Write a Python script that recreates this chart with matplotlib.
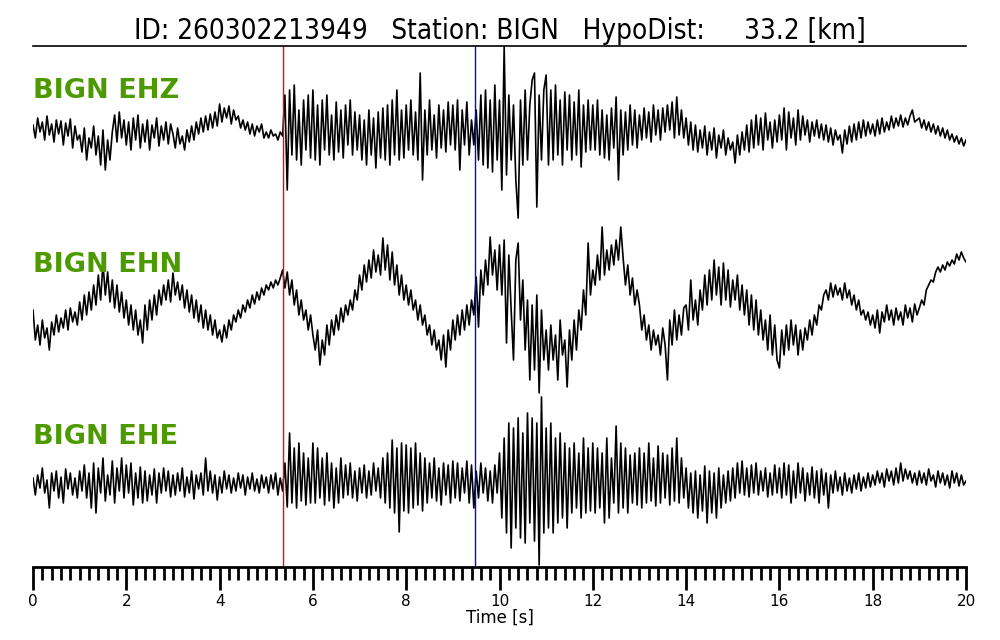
import numpy as np
import matplotlib
matplotlib.use("Agg")
import matplotlib.pyplot as plt

# event info
event_id = "260302213949"
station = "BIGN"
hypo_dist = 33.2
channels = ["EHZ", "EHN", "EHE"]
p_pick = 5.36
s_pick = 9.47
dt = 0.05

# traces, one row per second (20 samples), last value at t=20
ehz = [
    5, -8, 12, -2, 8, -10, 14, -5, 6, -12, 10, -4, 9, -15, 7, -6, 11, -18, 4, -10,
    -5, -22, 2, -30, -8, -18, 4, -25, -6, -35, 0, -40, -10, -30, -2, 15, -12, 18, -8, 10,
    -15, 8, -20, 12, -10, 15, -18, 6, -12, 10, -20, 5, -8, 12, -16, 4, -10, 8, -14, 6,
    -4, -18, 2, -14, -6, -20, 0, -12, 4, -10, 8, -4, 12, -2, 14, 0, 16, 2, 18, 4,
    26, 8, 22, 12, 24, 6, 20, 10, 14, 2, 10, 0, 8, -4, 6, -6, 4, -2, 6, -8,
    -2, -8, 0, -6, -4, -10, -2, -6, 35, -60, 40, -25, 45, -30, 20, -35, 30, -20, 35, -28,
    40, -30, 25, -35, 30, -20, 35, -25, 15, -30, 28, -22, 20, -28, 25, -15, 30, -25, 18, -20,
    15, -30, 10, -35, 20, -25, 12, -38, 18, -28, 22, -30, 25, -35, 30, -25, 40, -30, 20, -28,
    25, -20, 30, -25, 18, -30, 57, -50, 20, -25, 30, -20, 15, -28, 25, -18, 20, -22, 28, -15,
    25, -20, 30, -40, 20, -15, 28, -25, 10, -15, 20, -30, 35, -35, 40, -38, 30, -42, 45, -30,
    30, -60, 83, -45, 35, -30, 25, -50, -88, 30, -35, 40, -30, 25, 50, 57, -77, 35, -30, 40,
    55, -35, 40, -30, 45, -25, 30, -35, 38, -20, 35, -30, 28, -25, 40, -37, 25, -22, 30, -20,
    25, -20, 30, -25, 20, -28, 15, -30, 22, -18, 33, -50, 20, -25, 18, -20, 25, -15, 20, -18,
    15, -10, 22, -8, 18, -12, 25, -5, 20, -10, 22, -2, 25, 0, 28, -8, 33, -5, 20, -8,
    12, -15, 8, -20, 5, -22, 0, -18, 4, -25, -2, -20, 2, -28, -5, -18, 0, -25, -8, -20,
    -12, -33, -5, -25, -2, -20, 5, -22, 10, -18, 15, -15, 12, -20, 17, -10, 8, -18, 10, -12,
    15, -10, 22, -20, 18, -8, 12, -15, 20, -10, 14, -5, 10, -12, 8, -6, 10, -8, 6, -10,
    5, -12, 2, -15, 0, -10, -5, -23, 0, -14, 4, -12, 6, -10, 8, -8, 10, -6, 8, -4,
    6, -6, 10, -4, 12, -2, 8, 0, 14, 2, 12, 4, 15, 3, 12, 5, 14, 20, 8, 10,
    12, 2, 10, 0, 8, -2, 6, -4, 4, -6, 2, -8, 0, -10, -4, -12, -6, -14, -8, -16,
    -10,
]
ehn = [
    -10, -40, -25, -45, -20, -38, -28, -50, -22, -35, -15, -32, -18, -28, -10, -30, -8, -22, -12, -25,
    -2, -20, 5, -15, 8, -10, 15, -5, 25, 0, 37, 5, 28, -2, 20, -8, 15, -12, 8, -18,
    0, -25, -5, -30, -10, -35, -20, -43, -5, -30, 0, -20, 5, -15, 10, -5, 15, 0, 20, -2,
    27, 5, 18, 0, 15, -8, 10, -12, 5, -18, 0, -22, -5, -28, -10, -30, -15, -35, -20, -38,
    -30, -42, -25, -38, -20, -30, -15, -22, -10, -18, -5, -12, 0, -8, 5, -4, 8, 0, 12, 5,
    15, 10, 18, 12, 20, 15, 22, 30, 12, 28, 5, 20, -5, 10, -15, 0, -20, -10, -30, -15,
    -35, -50, -30, -65, -40, -55, -25, -45, -20, -35, -15, -30, -8, -22, -5, -15, 0, -10, 10, 0,
    25, 10, 35, 18, 40, 22, 50, 28, 45, 25, 62, 30, 55, 20, 48, 15, 35, 5, 25, 0,
    15, -5, 10, -10, 0, -20, -5, -25, -15, -35, -25, -45, -30, -50, -40, -60, -35, -67, -30, -50,
    -20, -40, -15, -35, -10, -30, -5, -25, 0, -15, 23, -27, 30, 5, 40, 15, 63, 25, 50, 10,
    55, 5, 60, -43, 45, -10, -60, 40, 57, -20, 20, -50, 0, -80, -5, -70, 5, -93, -10, -60,
    -30, -70, -25, -60, -35, -80, -20, -55, -40, -87, -30, -60, -20, -50, -10, -30, 10, -15, 57, 5,
    30, 15, 45, 20, 73, 25, 50, 30, 55, 35, 60, 40, 73, 42, 15, 35, 5, 22, -5, 10,
    -5, -30, -15, -40, -25, -50, -30, -45, -35, -55, -28, -45, -80, -20, -45, -10, -40, -15, -35, -8,
    -5, -30, 20, -20, 0, -25, 10, -10, 25, -5, 30, 0, 40, 5, 33, -5, 37, 0, 30, -7,
    20, 0, 25, -10, 15, -15, 10, -25, 5, -30, 0, -35, -10, -40, -20, -50, -15, -55, -25, -60,
    -68, -30, -55, -25, -50, -20, -45, -25, -55, -30, -50, -28, -40, -20, -35, -15, -25, -5, -10, 5,
    10, 0, 17, 3, 15, 5, 12, 0, 17, 2, 10, -5, 5, -10, 0, -15, -10, -20, -12, -25,
    -15, -28, -10, -33, -12, -22, -5, -20, -10, -25, -8, -20, -12, -25, -5, -18, -8, -22, -4, -15,
    -8, 0, -5, 10, 15, 20, 18, 28, 33, 28, 35, 30, 38, 34, 40, 36, 46, 40, 48, 42,
    38,
]
ehe = [
    5, -12, 8, -5, 15, -10, 3, -25, 10, -8, 12, -15, 6, -20, 14, -6, 10, -12, 5, -15,
    12, -8, 18, -15, 10, -25, 20, -30, 15, -10, 25, -18, 8, -12, 22, -20, 15, -8, 25, -15,
    18, -10, 20, -22, 10, -15, 16, -20, 12, -18, 8, -12, 14, -20, 10, -10, 15, -8, 12, -14,
    8, -12, 10, -8, 15, -14, 6, -10, 12, -16, 8, -6, 10, -12, 25, -8, 12, -10, 8, -17,
    6, -10, 12, -6, 8, -10, 5, -8, 10, -5, 8, -12, 6, -6, 10, -8, 4, -10, 8, -5,
    6, -10, 8, -6, 10, -12, 5, -8, 20, -24, 50, -20, 35, -25, 40, -18, 30, -22, 25, -20,
    40, -20, 35, -15, 25, -22, 30, -18, 20, -25, 15, -20, 25, -15, 18, -12, 20, -15, 12, -18,
    15, -10, 18, -15, 12, -12, 20, -8, 15, -15, 25, -20, 30, -25, 43, -30, 35, -49, 40, -28,
    38, -30, 35, -25, 40, -22, 30, -28, 25, -20, 20, -15, 25, -18, 15, -22, 20, -12, 18, -20,
    22, -15, 20, -18, 15, -10, 22, -20, 18, -25, 12, -15, 20, -10, 15, -18, 12, -20, 18, -10,
    30, -35, 45, -50, 60, -65, 55, -45, 65, -55, 50, -60, 70, -40, 65, -58, 60, -82, 86, -50,
    55, -45, 60, -50, 45, -40, 50, -35, 40, -45, 35, -30, 40, -25, 30, -35, 45, -30, 35, -28,
    40, -30, 35, -25, 30, -40, 45, -35, 25, -20, 57, -30, 40, -25, 35, -30, 28, -20, 30, -22,
    35, -25, 30, -20, 40, -18, 25, -23, 37, -20, 30, -15, 28, -22, 35, -18, 45, -20, 25, -15,
    15, -25, 10, -30, 12, -35, 8, -28, 17, -40, 12, -30, 10, -35, 15, -25, 8, -20, 12, -18,
    15, -15, 20, -10, 22, -12, 15, -14, 18, -10, 20, -12, 12, -8, 15, -14, 10, -12, 18, -10,
    15, -15, 20, -12, 18, -20, 12, -15, 20, -10, 15, -18, 10, -12, 16, -15, 12, -20, 14, -12,
    10, -25, 8, -10, 12, -8, 6, -12, 10, -8, 5, -10, 8, -6, 10, -8, 6, -5, 10, -4,
    8, -2, 12, 0, 10, -4, 14, 2, 12, -2, 15, 0, 20, 2, 14, 4, 12, 0, 10, -2,
    12, 0, 10, -2, 14, 2, 8, -4, 12, 0, 10, -2, 8, -5, 12, 0, 10, -3, 8, -2,
    2,
]
traces = [ehz, ehn, ehe]
green = "#4c9900"

fig = plt.figure(figsize=(10, 6.4), dpi=100)
ax = fig.add_axes([0.033, 73 / 640, 0.933, 521 / 640])

offsets = [437, 267, 84]
label_y = [476, 302, 130]
for tr, off, ch, ly in zip(traces, offsets, channels, label_y):
    t = np.arange(len(tr)) * dt
    ax.plot(t, np.array(tr) + off, color="black", lw=1.2)
    ax.text(0, ly, station + " " + ch, color=green, fontsize=19.5,
            fontweight="bold", va="center", ha="left")

ax.axvline(p_pick, color="red", lw=1.0)
ax.axvline(s_pick, color="blue", lw=1.0)

ax.set_xlim(0, 20)
ax.set_ylim(0, 521)
ax.spines["left"].set_visible(False)
ax.spines["right"].set_visible(False)
ax.spines["top"].set_linewidth(1.2)
ax.spines["bottom"].set_linewidth(2)
ax.set_yticks([])
ax.set_xticks(np.arange(0, 21, 2))
ax.set_xticks(np.arange(0, 20.01, 0.2), minor=True)
ax.tick_params(axis="x", which="major", length=16.5, width=2, labelsize=11, pad=3)
ax.tick_params(axis="x", which="minor", length=9.4, width=2)
ax.set_xlabel("Time [s]", fontsize=12, labelpad=0)

ax.set_title("ID: %s   Station: %s   HypoDist:     %.1f [km]" % (event_id, station, hypo_dist),
             fontsize=20, fontstretch="condensed", pad=5)

fig.savefig("out.png", dpi=100)
